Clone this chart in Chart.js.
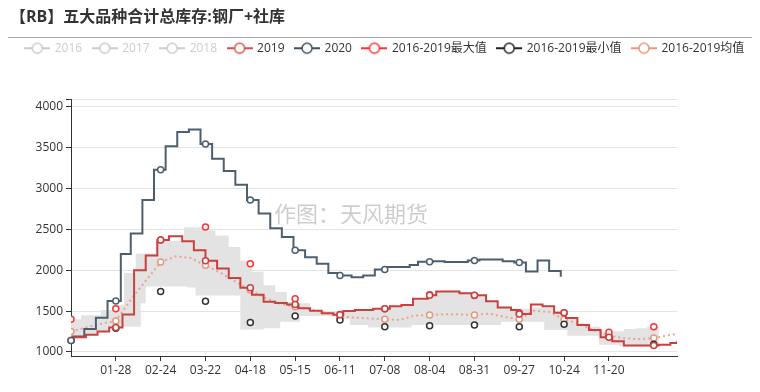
<!DOCTYPE html>
<html>
<head>
<meta charset="utf-8">
<script src="https://cdn.jsdelivr.net/npm/chart.js@4"></script>
<style>
  html, body { margin: 0; padding: 0; background: #fff; }
</style>
</head>
<body>
<canvas id="myChart" width="760" height="392"></canvas>
<script>
// Title and legend texts
const titleText = '【RB】五大品种合计总库存:钢厂+社库';
const watermark = '作图：天风期货';

// x axis: day of year (2020 calendar), ticks every 27 days
const xTickDays = [27, 54, 81, 108, 135, 162, 189, 216, 243, 270, 297, 324];
const xTickLabels = ['01-28', '02-24', '03-22', '04-18', '05-15', '06-11', '07-08', '08-04', '08-31', '09-27', '10-24', '11-20'];
const yTicks = [1000, 1500, 2000, 2500, 3000, 3500, 4000];

// days where ECharts shows symbols
const markerDays = [0, 27, 54, 81, 108, 135, 162, 189, 216, 243, 270, 297, 324, 351];

// 2019 weekly steps
const days2019 = [0, 1, 9, 16, 23, 31, 38, 45, 52, 59, 67, 74, 81, 88, 95, 102, 109, 116, 123, 130, 137, 144, 151, 158, 164, 171, 182, 192, 199, 206, 215, 220, 234, 242, 250, 257, 265, 270, 277, 284, 291, 298, 305, 312, 319, 326, 333, 354, 361, 365];
const vals2019 = [1140, 1180, 1210, 1250, 1300, 1460, 2000, 2180, 2370, 2415, 2355, 2245, 2115, 2020, 1905, 1785, 1700, 1615, 1600, 1580, 1535, 1505, 1475, 1455, 1500, 1515, 1530, 1560, 1575, 1650, 1695, 1740, 1720, 1695, 1620, 1545, 1515, 1465, 1580, 1560, 1480, 1415, 1330, 1270, 1180, 1130, 1080, 1090, 1110, 1130];

// 2020 weekly steps
const days2020 = [0, 1, 8, 15, 22, 30, 36, 43, 50, 57, 64, 71, 78, 85, 92, 99, 106, 113, 120, 127, 134, 141, 148, 155, 162, 169, 176, 183, 190, 204, 209, 218, 225, 239, 246, 260, 267, 274, 281, 288, 295];
const vals2020 = [1140, 1190, 1280, 1420, 1625, 2200, 2450, 2860, 3230, 3515, 3690, 3720, 3545, 3365, 3215, 3045, 2860, 2695, 2515, 2405, 2245, 2160, 2080, 1965, 1935, 1915, 1935, 2010, 2040, 2065, 2105, 2110, 2100, 2120, 2130, 2110, 2095, 1985, 2120, 1990, 1920];

// 2016-2019 max / min symbols
const maxVals = [1400, 1530, 2370, 2530, 2080, 1650, 1460, 1530, 1700, 1690, 1480, 1480, 1240, 1310];
const minVals = [1140, 1290, 1740, 1620, 1360, 1440, 1390, 1310, 1320, 1330, 1310, 1340, 1185, 1095];

// 2016-2019 mean
const meanDays = [0, 9, 18, 27, 36, 45, 54, 63, 72, 81, 90, 99, 108, 117, 126, 135, 144, 153, 162, 171, 180, 189, 198, 207, 216, 225, 234, 243, 252, 261, 270, 279, 288, 297, 306, 315, 324, 333, 342, 351, 360, 365];
const meanVals = [1250, 1300, 1345, 1380, 1640, 1870, 2100, 2170, 2150, 2060, 1970, 1860, 1757, 1660, 1590, 1554, 1520, 1480, 1433, 1420, 1410, 1400, 1392, 1445, 1453, 1462, 1460, 1453, 1470, 1430, 1400, 1505, 1490, 1400, 1345, 1265, 1198, 1168, 1158, 1170, 1205, 1222];

// grey range band
const bandTopDays = [0, 6, 18, 25, 32, 39, 51, 68, 81, 87, 95, 102, 109, 116, 123, 130, 136, 144, 151, 165, 172, 183, 192, 199, 206, 215, 220, 234, 242, 250, 257, 265, 277, 291, 298, 305, 312, 319, 326, 333, 340, 347, 357, 363];
const bandTopVals = [1400, 1450, 1515, 1575, 1965, 2205, 2360, 2525, 2485, 2425, 2285, 2120, 1980, 1815, 1735, 1615, 1595, 1515, 1490, 1500, 1515, 1530, 1555, 1570, 1640, 1690, 1730, 1710, 1690, 1610, 1540, 1530, 1545, 1480, 1425, 1350, 1310, 1250, 1255, 1280, 1290, 1310, 1370, 1400];
const bandLowDays = [0, 2, 9, 16, 23, 31, 42, 45, 70, 75, 102, 116, 126, 138, 160, 168, 179, 205, 259, 285, 299, 318, 330, 354];
const bandLowVals = [1150, 1180, 1210, 1250, 1300, 1310, 1595, 1800, 1790, 1690, 1275, 1290, 1370, 1440, 1400, 1330, 1300, 1330, 1370, 1270, 1200, 1090, 1070, 1090];

function pts(days, vals) {
    return days.map((d, i) => ({x: d, y: vals[i]}));
}

function makeIcon(color) {
    const c = document.createElement('canvas');
    c.width = 26;
    c.height = 14;
    const g = c.getContext('2d');
    g.strokeStyle = color;
    g.lineWidth = 2;
    g.beginPath(); g.moveTo(0, 7); g.lineTo(26, 7); g.stroke();
    g.beginPath(); g.arc(13, 7, 5, 0, Math.PI * 2);
    g.fillStyle = '#fff'; g.fill();
    g.lineWidth = 1.5; g.stroke();
    return c;
}

// symbols on the step lines at the marker days
const stepMarks = {
    id: 'stepMarks',
    afterDatasetsDraw(chart) {
        const {ctx, scales: {x, y}} = chart;
        chart.data.datasets.forEach((ds, i) => {
            if (!ds.stepMarks || !chart.isDatasetVisible(i)) return;
            const lastDay = ds.data[ds.data.length - 1].x;
            ctx.save();
            ctx.lineWidth = 1.5;
            ctx.strokeStyle = ds.borderColor;
            ctx.fillStyle = '#fff';
            markerDays.forEach(d => {
                if (d > lastDay) return;
                const held = ds.data.filter(p => p.x <= d).pop();
                ctx.beginPath();
                ctx.arc(x.getPixelForValue(d), y.getPixelForValue(held.y), 3, 0, Math.PI * 2);
                ctx.fill();
                ctx.stroke();
            });
            ctx.restore();
        });
    }
};

const extras = {
    id: 'extras',
    beforeInit(chart) {
        const fit = chart.legend.fit;
        chart.legend.fit = function () { fit.call(this); this.height += 35; };
    },
    beforeDraw(chart) {
        const ctx = chart.ctx;
        ctx.save();
        ctx.strokeStyle = '#aaa';
        ctx.lineWidth = 1;
        ctx.beginPath(); ctx.moveTo(8, 37.5); ctx.lineTo(752, 37.5); ctx.stroke();
        ctx.restore();
    },
    beforeDatasetsDraw(chart) {
        const ctx = chart.ctx;
        ctx.save();
        ctx.fillStyle = 'rgba(0,0,0,0.2)';
        ctx.font = "22px 'Noto Sans CJK SC', sans-serif";
        ctx.textAlign = 'center';
        ctx.textBaseline = 'middle';
        ctx.fillText(watermark, 351, 214);
        ctx.restore();
    }
};

Chart.defaults.font.family = "'Open Sans', 'Noto Sans CJK SC', sans-serif";
Chart.defaults.color = '#333';

const red19 = '#c8413f';
const slate20 = '#4d5f6e';

let chartData = {
    type: 'line',
    data: {
        datasets: [
            {label: '2016', data: [], hidden: true, iconColor: '#ccc'},
            {label: '2017', data: [], hidden: true, iconColor: '#ccc'},
            {label: '2018', data: [], hidden: true, iconColor: '#ccc'},
            {
                label: '2019', data: pts(days2019, vals2019), stepped: 'before',
                borderColor: red19, borderWidth: 2, pointRadius: 0, fill: false,
                stepMarks: true, iconColor: '#d9504d'
            },
            {
                label: '2020', data: pts(days2020, vals2020), stepped: 'before',
                borderColor: slate20, borderWidth: 2, pointRadius: 0, fill: false,
                stepMarks: true, iconColor: '#3f5060'
            },
            {
                label: '2016-2019最大值', data: pts(markerDays, maxVals), showLine: false,
                pointRadius: 3, pointBorderWidth: 1.5, pointBackgroundColor: '#fff',
                pointBorderColor: '#f33', iconColor: '#f33'
            },
            {
                label: '2016-2019最小值', data: pts(markerDays, minVals), showLine: false,
                pointRadius: 3, pointBorderWidth: 1.5, pointBackgroundColor: '#fff',
                pointBorderColor: '#333', iconColor: '#222'
            },
            {
                label: '2016-2019均值', data: pts(meanDays, meanVals),
                borderColor: '#e8a590', borderWidth: 2, borderDash: [2, 3], fill: false,
                pointRadius: c => (c.raw && c.raw.x % 27 === 0) ? 3 : 0,
                pointBorderWidth: 1.5, pointBackgroundColor: '#fff', pointBorderColor: '#e39880',
                iconColor: '#e9967a'
            },
            {
                label: 'bandTop', data: pts(bandTopDays, bandTopVals), stepped: 'before',
                borderColor: 'rgba(0,0,0,0)', borderWidth: 0, pointRadius: 0,
                backgroundColor: '#e3e3e3', fill: '+1', noLegend: true
            },
            {
                label: 'bandLow', data: pts(bandLowDays, bandLowVals), stepped: 'before',
                borderColor: 'rgba(0,0,0,0)', borderWidth: 0, pointRadius: 0,
                fill: false, noLegend: true
            }
        ]
    },
    options: {
        responsive: false,
        animation: false,
        layout: {padding: {left: 10, right: 0, top: 0, bottom: 0}},
        plugins: {
            title: {
                display: true, text: titleText, align: 'start', color: '#333',
                font: {size: 16, weight: 'bold'}, padding: {top: 8, bottom: 4}
            },
            legend: {
                labels: {
                    usePointStyle: true, pointStyleWidth: 23, padding: 11,
                    font: {size: 12},
                    generateLabels: chart => chart.data.datasets
                        .map((ds, i) => ({ds, i}))
                        .filter(o => !o.ds.noLegend)
                        .map(({ds, i}) => ({
                            text: ds.label,
                            datasetIndex: i,
                            hidden: false,
                            fontColor: ds.hidden ? '#ccc' : '#333',
                            pointStyle: makeIcon(ds.hidden ? '#ccc' : ds.iconColor),
                            lineWidth: 0,
                            strokeStyle: 'rgba(0,0,0,0)',
                            fillStyle: 'rgba(0,0,0,0)'
                        }))
                }
            },
            tooltip: {enabled: false}
        },
        scales: {
            x: {
                type: 'linear', min: 0, max: 365,
                afterBuildTicks: s => { s.ticks = xTickDays.map(v => ({value: v})); },
                afterFit: s => { s.paddingRight = 83; s.height = 36; },
                ticks: {
                    autoSkip: false, maxRotation: 0, padding: 2, color: '#333', font: {size: 12},
                    callback: v => xTickLabels[xTickDays.indexOf(v)]
                },
                grid: {drawOnChartArea: false, tickLength: 5, tickColor: '#333'},
                border: {color: '#333'}
            },
            y: {
                min: 951, max: 4092,
                afterBuildTicks: s => { s.ticks = yTicks.concat([s.max]).map(v => ({value: v})); },
                afterFit: s => { s.width = 61; },
                ticks: {
                    color: '#333', font: {size: 12}, padding: 3,
                    callback: v => yTicks.includes(v) ? v : ''
                },
                grid: {color: '#e4e4e4', tickColor: '#333', tickLength: 5},
                border: {color: '#333'}
            }
        }
    },
    plugins: [stepMarks, extras]
};

let ctx = document.getElementById('myChart').getContext('2d');
let myChart = new Chart(ctx, chartData);
</script>
</body>
</html>
